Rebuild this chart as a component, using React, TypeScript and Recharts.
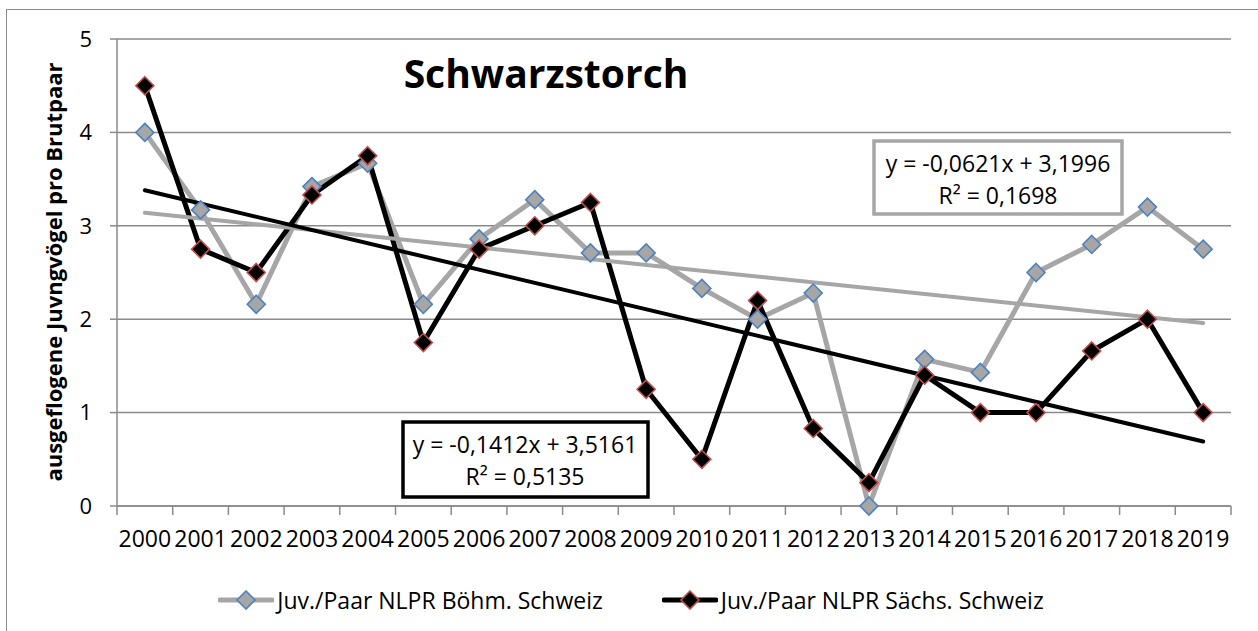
import React from "react";
import { LineChart, Line, XAxis, YAxis, CartesianGrid } from "recharts";

const years = [
  "2000", "2001", "2002", "2003", "2004", "2005", "2006", "2007", "2008", "2009",
  "2010", "2011", "2012", "2013", "2014", "2015", "2016", "2017", "2018", "2019",
];
const bohm = [4.0, 3.17, 2.16, 3.42, 3.67, 2.16, 2.86, 3.28, 2.71, 2.71, 2.33, 2.0, 2.28, 0, 1.57, 1.43, 2.5, 2.8, 3.2, 2.75];
const sachs = [4.5, 2.75, 2.5, 3.33, 3.75, 1.75, 2.75, 3.0, 3.25, 1.25, 0.5, 2.2, 0.83, 0.25, 1.4, 1.0, 1.0, 1.66, 2.0, 1.0];
// trend line end points (first and last year)
const trendBohmEnds = [3.14, 1.96];
const trendSachsEnds = [3.38, 0.69];
const yTicks = [0, 1, 2, 3, 4, 5];

const bohmName = "Juv./Paar NLPR Böhm. Schweiz";
const sachsName = "Juv./Paar NLPR Sächs. Schweiz";
const bohmEq = ["y = -0,0621x + 3,1996", "R² = 0,1698"];
const sachsEq = ["y = -0,1412x + 3,5161", "R² = 0,5135"];

const last = years.length - 1;
const data = years.map((year, i) => ({
  year,
  bohm: bohm[i],
  sachs: sachs[i],
  trendBohm: i === 0 ? trendBohmEnds[0] : i === last ? trendBohmEnds[1] : null,
  trendSachs: i === 0 ? trendSachsEnds[0] : i === last ? trendSachsEnds[1] : null,
}));

const FONT = "'Open Sans', sans-serif";
const GRAY = "#a6a6a6";
const AXIS = "#8a8a8a";

const Diamond = ({ cx, cy, fill, stroke }: any) => {
  if (cx == null || cy == null) return null;
  const r = 9;
  return (
    <path
      d={`M${cx},${cy - r}L${cx + r},${cy}L${cx},${cy + r}L${cx - r},${cy}Z`}
      fill={fill}
      stroke={stroke}
      strokeWidth={1.6}
    />
  );
};

const YearTick = (props: any) => {
  const { x, y, payload } = props;
  const half = payload && payload.offset ? payload.offset : 27.8;
  const isLast = payload.value === years[last];
  return (
    <g>
      <line x1={x - half} x2={x - half} y1={y} y2={y + 9} stroke={AXIS} strokeWidth={1.5} />
      {isLast && <line x1={x + half} x2={x + half} y1={y} y2={y + 9} stroke={AXIS} strokeWidth={1.5} />}
      <text x={x} y={y + 41} textAnchor="middle" fontFamily={FONT} fontSize={23} fill="#000">
        {payload.value}
      </text>
    </g>
  );
};

const LegendIcon = ({ line, fill, stroke }: { line: string; fill: string; stroke: string }) => (
  <svg width={56} height={20} style={{ display: "block" }}>
    <line x1={2} x2={54} y1={10} y2={10} stroke={line} strokeWidth={5} strokeLinecap="round" />
    <Diamond cx={28} cy={10} fill={fill} stroke={stroke} />
  </svg>
);

const legendItems = [
  { name: bohmName, line: GRAY, fill: GRAY, stroke: "#4f81bd" },
  { name: sachsName, line: "#000", fill: "#000", stroke: "#c0504d" },
];

export default function App() {
  return (
    <div
      style={{
        position: "absolute",
        left: 0,
        top: 0,
        width: 1258,
        height: 631,
        overflow: "hidden",
        background: "#fff",
        fontFamily: FONT,
      }}
    >
      <div
        style={{
          position: "absolute",
          left: 6,
          top: 9,
          width: 1300,
          height: 700,
          border: `1.5px solid ${AXIS}`,
        }}
      />
      <div style={{ position: "absolute", left: 0, top: 0 }}>
        <LineChart width={1258} height={631} data={data} margin={{ top: 39, right: 27, left: 57, bottom: 65 }}>
          <CartesianGrid vertical={false} stroke={AXIS} strokeWidth={1.5} />
          <XAxis
            dataKey="year"
            scale="band"
            interval={0}
            tickSize={0}
            tickMargin={0}
            tickLine={false}
            height={60}
            axisLine={{ stroke: AXIS, strokeWidth: 1.5 }}
            tick={<YearTick />}
          />
          <YAxis
            domain={[0, 5]}
            ticks={yTicks}
            width={60}
            tickSize={7}
            tickMargin={18}
            axisLine={{ stroke: AXIS, strokeWidth: 1.5 }}
            tickLine={{ stroke: AXIS, strokeWidth: 1.5 }}
            tick={{ fontFamily: FONT, fontSize: 22, fill: "#000" }}
          />
          <Line
            dataKey="bohm"
            name={bohmName}
            stroke={GRAY}
            strokeWidth={5}
            strokeLinejoin="round"
            isAnimationActive={false}
            dot={(p: any) => <Diamond key={`b${p.index}`} cx={p.cx} cy={p.cy} fill={GRAY} stroke="#4f81bd" />}
            activeDot={false}
          />
          <Line
            dataKey="sachs"
            name={sachsName}
            stroke="#000"
            strokeWidth={5}
            strokeLinejoin="round"
            isAnimationActive={false}
            dot={(p: any) => <Diamond key={`s${p.index}`} cx={p.cx} cy={p.cy} fill="#000" stroke="#c0504d" />}
            activeDot={false}
          />
          <Line
            dataKey="trendBohm"
            stroke={GRAY}
            strokeWidth={4}
            strokeLinecap="round"
            connectNulls
            dot={false}
            activeDot={false}
            isAnimationActive={false}
          />
          <Line
            dataKey="trendSachs"
            stroke="#000"
            strokeWidth={4}
            strokeLinecap="round"
            connectNulls
            dot={false}
            activeDot={false}
            isAnimationActive={false}
          />
        </LineChart>
      </div>

      <svg
        width={1258}
        height={631}
        style={{ position: "absolute", left: 0, top: 0, pointerEvents: "none" }}
        fontFamily={FONT}
      >
        <text x={546} y={88} textAnchor="middle" fontSize={39} fontWeight={700} fill="#000">
          Schwarzstorch
        </text>
        <text
          x={62}
          y={272}
          transform="rotate(-90 62 272)"
          textAnchor="middle"
          fontSize={22}
          fontWeight={700}
          fill="#000"
        >
          ausgeflogene Juvngvögel pro Brutpaar
        </text>

        <rect x={874} y={141} width={248} height={73} fill="#fff" stroke={GRAY} strokeWidth={3.5} />
        <text x={998} y={172} textAnchor="middle" fontSize={23} fill="#000">{bohmEq[0]}</text>
        <text x={998} y={204} textAnchor="middle" fontSize={23} fill="#000">{bohmEq[1]}</text>

        <rect x={403} y={422} width={245} height={75} fill="#fff" stroke="#000" strokeWidth={3.5} />
        <text x={525} y={453} textAnchor="middle" fontSize={23} fill="#000">{sachsEq[0]}</text>
        <text x={525} y={485} textAnchor="middle" fontSize={23} fill="#000">{sachsEq[1]}</text>
      </svg>

      <div
        style={{
          position: "absolute",
          left: 0,
          top: 585,
          width: 1262,
          display: "flex",
          justifyContent: "center",
          gap: 59,
        }}
      >
        {legendItems.map((it) => (
          <div key={it.name} style={{ display: "flex", alignItems: "center", gap: 3 }}>
            <LegendIcon line={it.line} fill={it.fill} stroke={it.stroke} />
            <span style={{ fontSize: 23, lineHeight: "30px", color: "#000", whiteSpace: "nowrap" }}>{it.name}</span>
          </div>
        ))}
      </div>
    </div>
  );
}
